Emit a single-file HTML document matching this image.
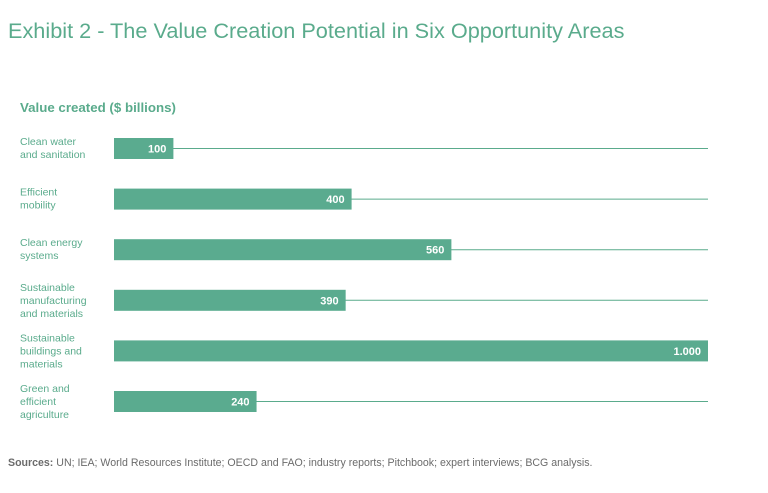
<!DOCTYPE html>
<html><head><meta charset="utf-8"><style>
body{margin:0;width:768px;height:493px;background:#fff;font-family:"Liberation Sans",sans-serif;overflow:hidden;position:relative}
.t{position:absolute;left:8px;top:18px;font-size:21.7px;color:#5aab8c}
.s{position:absolute;left:20px;top:100px;font-size:13.3px;font-weight:bold;color:#5aab8c}
.src{position:absolute;left:8px;top:457px;font-size:10.6px;color:#6b6b6b}
</style></head><body>
<div class="t">Exhibit 2 - The Value Creation Potential in Six Opportunity Areas</div>
<div class="s">Value created ($ billions)</div>
<svg id="c" width="768" height="493" style="position:absolute;left:0;top:0"></svg>
<div class="src"><b>Sources:</b> UN; IEA; World Resources Institute; OECD and FAO; industry reports; Pitchbook; expert interviews; BCG analysis.</div>
<script>
const categories=[["Clean water","and sanitation"],["Efficient","mobility"],["Clean energy","systems"],["Sustainable","manufacturing","and materials"],["Sustainable","buildings and","materials"],["Green and","efficient","agriculture"]];
const values=[100,400,568,390,1000,240];
const valueLabels=["100","400","560","390","1.000","240"];
const NS="http://www.w3.org/2000/svg",svg=document.getElementById('c');
const x0=114,x1=708,maxV=1000;
const xs=v=>x0+(x1-x0)*v/maxV;
const yTop=i=>138+i*50.6;
const bh=21;
function mk(t,a){const e=document.createElementNS(NS,t);for(const k in a)e.setAttribute(k,a[k]);svg.appendChild(e);return e;}
values.forEach((v,i)=>{
 const y=yTop(i);
 const ln=mk('line',{x1:x0,x2:x1,y1:y+bh/2,y2:y+bh/2,stroke:'#5aab8c','stroke-width':1});
 
 
 const r=mk('rect',{x:x0,y:y,width:xs(v)-x0,height:bh,fill:'#5aab8f'});
 
 
 const t=mk('text',{x:xs(v)-7,y:y+bh/2+4,'text-anchor':'end','font-size':11,'font-weight':'bold',fill:'#fff'});
 t.textContent=valueLabels[i];
 
 
 const lines=categories[i];
 const n=lines.length;
 const cy=n===2?y+7:y+1;
 lines.forEach((s,j)=>{
  const c=mk('text',{x:20,y:cy+j*13,'font-size':10.5,fill:'#5aab8c'});
  c.textContent=s;
  
  
 });
});
</script>
</body></html>
